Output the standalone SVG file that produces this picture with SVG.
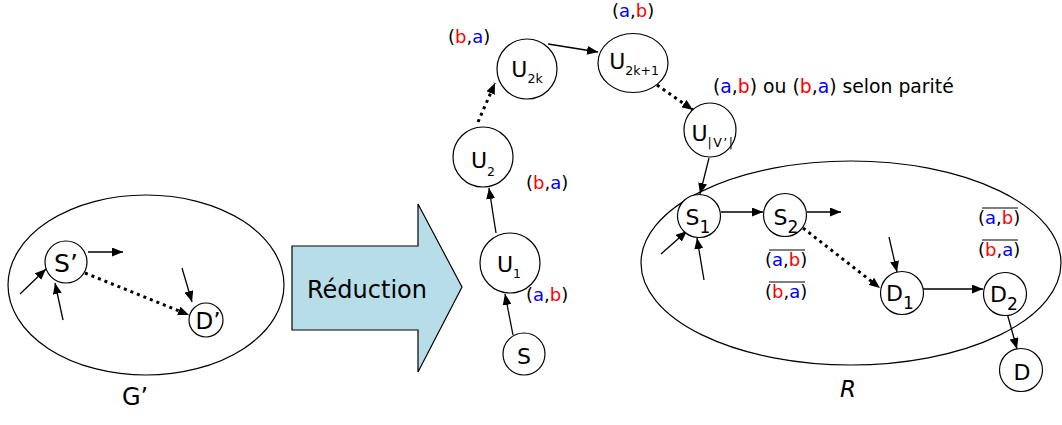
<svg xmlns="http://www.w3.org/2000/svg" width="1062" height="425" viewBox="0 0 1062 425">
<style>
.n{fill:#fff;stroke:#000;stroke-width:1.2}
.g{fill:none;stroke:#000;stroke-width:1.2}
.t{font-family:"DejaVu Sans",sans-serif;font-size:22px;text-anchor:middle;fill:#000}
.s{font-size:12.5px}
.s2{font-size:17px}
.l{font-family:"DejaVu Sans",sans-serif;font-size:18px;fill:#000}
.b{fill:#0000ff}
.r{fill:#ff0000}
.a{fill:none;stroke:#000;stroke-width:1.3;marker-end:url(#ah)}
.d{fill:none;stroke:#000;stroke-width:3;stroke-dasharray:3 4;marker-end:url(#ah)}
.o{stroke:#000;stroke-width:1.2}
</style>
<defs>
<marker id="ah" markerUnits="userSpaceOnUse" markerWidth="11" markerHeight="9" refX="11" refY="4.5" orient="auto">
<path d="M0,0 L11,4.5 L0,9 z" fill="#000"/>
</marker>
</defs>
<rect width="1062" height="425" fill="#fff"/>

<g id="graph-G">
<ellipse class="g" cx="146" cy="285" rx="138" ry="90"/>
<text class="t" x="135" y="405" style="font-size:24px">G’</text>
</g>
<g id="graph-R">
<ellipse class="g" cx="851" cy="263" rx="210" ry="102"/>
<text class="t" x="848" y="397" style="font-size:23px;font-style:italic">R</text>
</g>

<g id="reduction">
<polygon points="292,246 418,246 418,204 462,287 418,372 418,330 292,330" fill="#b7dee8" stroke="#000" stroke-width="1.2"/>
<text class="t" x="367" y="298" style="font-size:24px">Réduction</text>
</g>

<g id="connectors">
<line class="a" x1="88" y1="252" x2="123" y2="252"/>
<line class="a" x1="20" y1="294" x2="46" y2="269"/>
<line class="a" x1="63" y1="320" x2="55" y2="283"/>
<line class="a" x1="182" y1="268" x2="192" y2="302"/>
<line class="d" x1="85" y1="273" x2="189" y2="315"/>
<line class="a" x1="513" y1="335" x2="505" y2="294"/>
<line class="a" x1="496" y1="233" x2="489" y2="188"/>
<line class="d" x1="478" y1="122" x2="495" y2="83"/>
<line class="a" x1="548" y1="44" x2="598" y2="52"/>
<line class="d" x1="657" y1="85" x2="693" y2="110"/>
<line class="a" x1="709" y1="158" x2="700" y2="194"/>
<line class="a" x1="721" y1="212" x2="763" y2="212"/>
<line class="a" x1="807" y1="212" x2="841" y2="212"/>
<line class="a" x1="661" y1="254" x2="687" y2="231"/>
<line class="a" x1="704" y1="280" x2="697" y2="238"/>
<line class="d" x1="803" y1="228" x2="880" y2="288"/>
<line class="a" x1="889" y1="237" x2="897" y2="272"/>
<line class="a" x1="923" y1="289" x2="983" y2="289"/>
<line class="a" x1="1007" y1="313" x2="1017" y2="349"/>
</g>

<g id="node-Sp"><circle class="n" cx="66" cy="262" r="21"/><text class="t" x="66" y="272" style="font-size:25px">S’</text></g>
<g id="node-Dp"><circle class="n" cx="206" cy="320" r="17"/><text class="t" x="208" y="329" style="font-size:23px">D’</text></g>

<g id="node-S"><circle class="n" cx="524" cy="354" r="21"/><text class="t" x="524" y="364">S</text></g>
<g id="node-U1"><circle class="n" cx="510" cy="263" r="30"/><text class="t" x="509" y="272">U<tspan class="s" dy="6">1</tspan></text></g>
<g id="node-U2"><circle class="n" cx="483" cy="157" r="30"/><text class="t" x="483" y="168">U<tspan class="s" dy="8">2</tspan></text></g>
<g id="node-U2k"><circle class="n" cx="527" cy="69" r="30"/><text class="t" x="527" y="77">U<tspan class="s" dy="6">2k</tspan></text></g>
<g id="node-U2k1"><ellipse class="n" cx="633" cy="63" rx="35" ry="29.5"/><text class="t" x="634" y="69">U<tspan class="s" dy="6">2k+1</tspan></text></g>
<g id="node-UV"><ellipse class="n" cx="710" cy="130" rx="26" ry="27"/><text class="t" x="713" y="141">U<tspan class="s" dy="6" letter-spacing="1.5">|V’|</tspan></text></g>

<g id="node-S1"><circle class="n" cx="699" cy="216" r="21.5"/><text class="t" x="698" y="225">S<tspan class="s2" dy="8">1</tspan></text></g>
<g id="node-S2"><circle class="n" cx="785" cy="215" r="21.5"/><text class="t" x="786" y="225">S<tspan class="s2" dy="8">2</tspan></text></g>
<g id="node-D1"><circle class="n" cx="902" cy="293" r="21.5"/><text class="t" x="900" y="301">D<tspan class="s2" dy="8">1</tspan></text></g>
<g id="node-D2"><circle class="n" cx="1005" cy="294" r="21.5"/><text class="t" x="1004" y="302">D<tspan class="s2" dy="8">2</tspan></text></g>
<g id="node-D"><circle class="n" cx="1021" cy="370" r="21.5"/><text class="t" x="1022" y="380">D</text></g>

<g id="labels">
<text class="l" x="448" y="43">(<tspan class="r">b</tspan>,<tspan class="b">a</tspan>)</text>
<text class="l" x="612" y="17">(<tspan class="b">a</tspan>,<tspan class="r">b</tspan>)</text>
<text class="l" x="713" y="93" style="font-size:18.8px">(<tspan class="b">a</tspan>,<tspan class="r">b</tspan>) ou (<tspan class="r">b</tspan>,<tspan class="b">a</tspan>) selon parité</text>
<text class="l" x="526" y="189">(<tspan class="r">b</tspan>,<tspan class="b">a</tspan>)</text>
<text class="l" x="526" y="301">(<tspan class="b">a</tspan>,<tspan class="r">b</tspan>)</text>
<text class="l" x="765" y="266">(<tspan class="b">a</tspan>,<tspan class="r">b</tspan>)</text>
<line class="o" x1="769" y1="250" x2="805" y2="250"/>
<text class="l" x="765" y="298">(<tspan class="r">b</tspan>,<tspan class="b">a</tspan>)</text>
<line class="o" x1="769" y1="282" x2="805" y2="282"/>
<text class="l" x="978" y="224">(<tspan class="b">a</tspan>,<tspan class="r">b</tspan>)</text>
<line class="o" x1="982" y1="208" x2="1018" y2="208"/>
<text class="l" x="978" y="256">(<tspan class="r">b</tspan>,<tspan class="b">a</tspan>)</text>
<line class="o" x1="982" y1="240" x2="1018" y2="240"/>
</g>
</svg>
